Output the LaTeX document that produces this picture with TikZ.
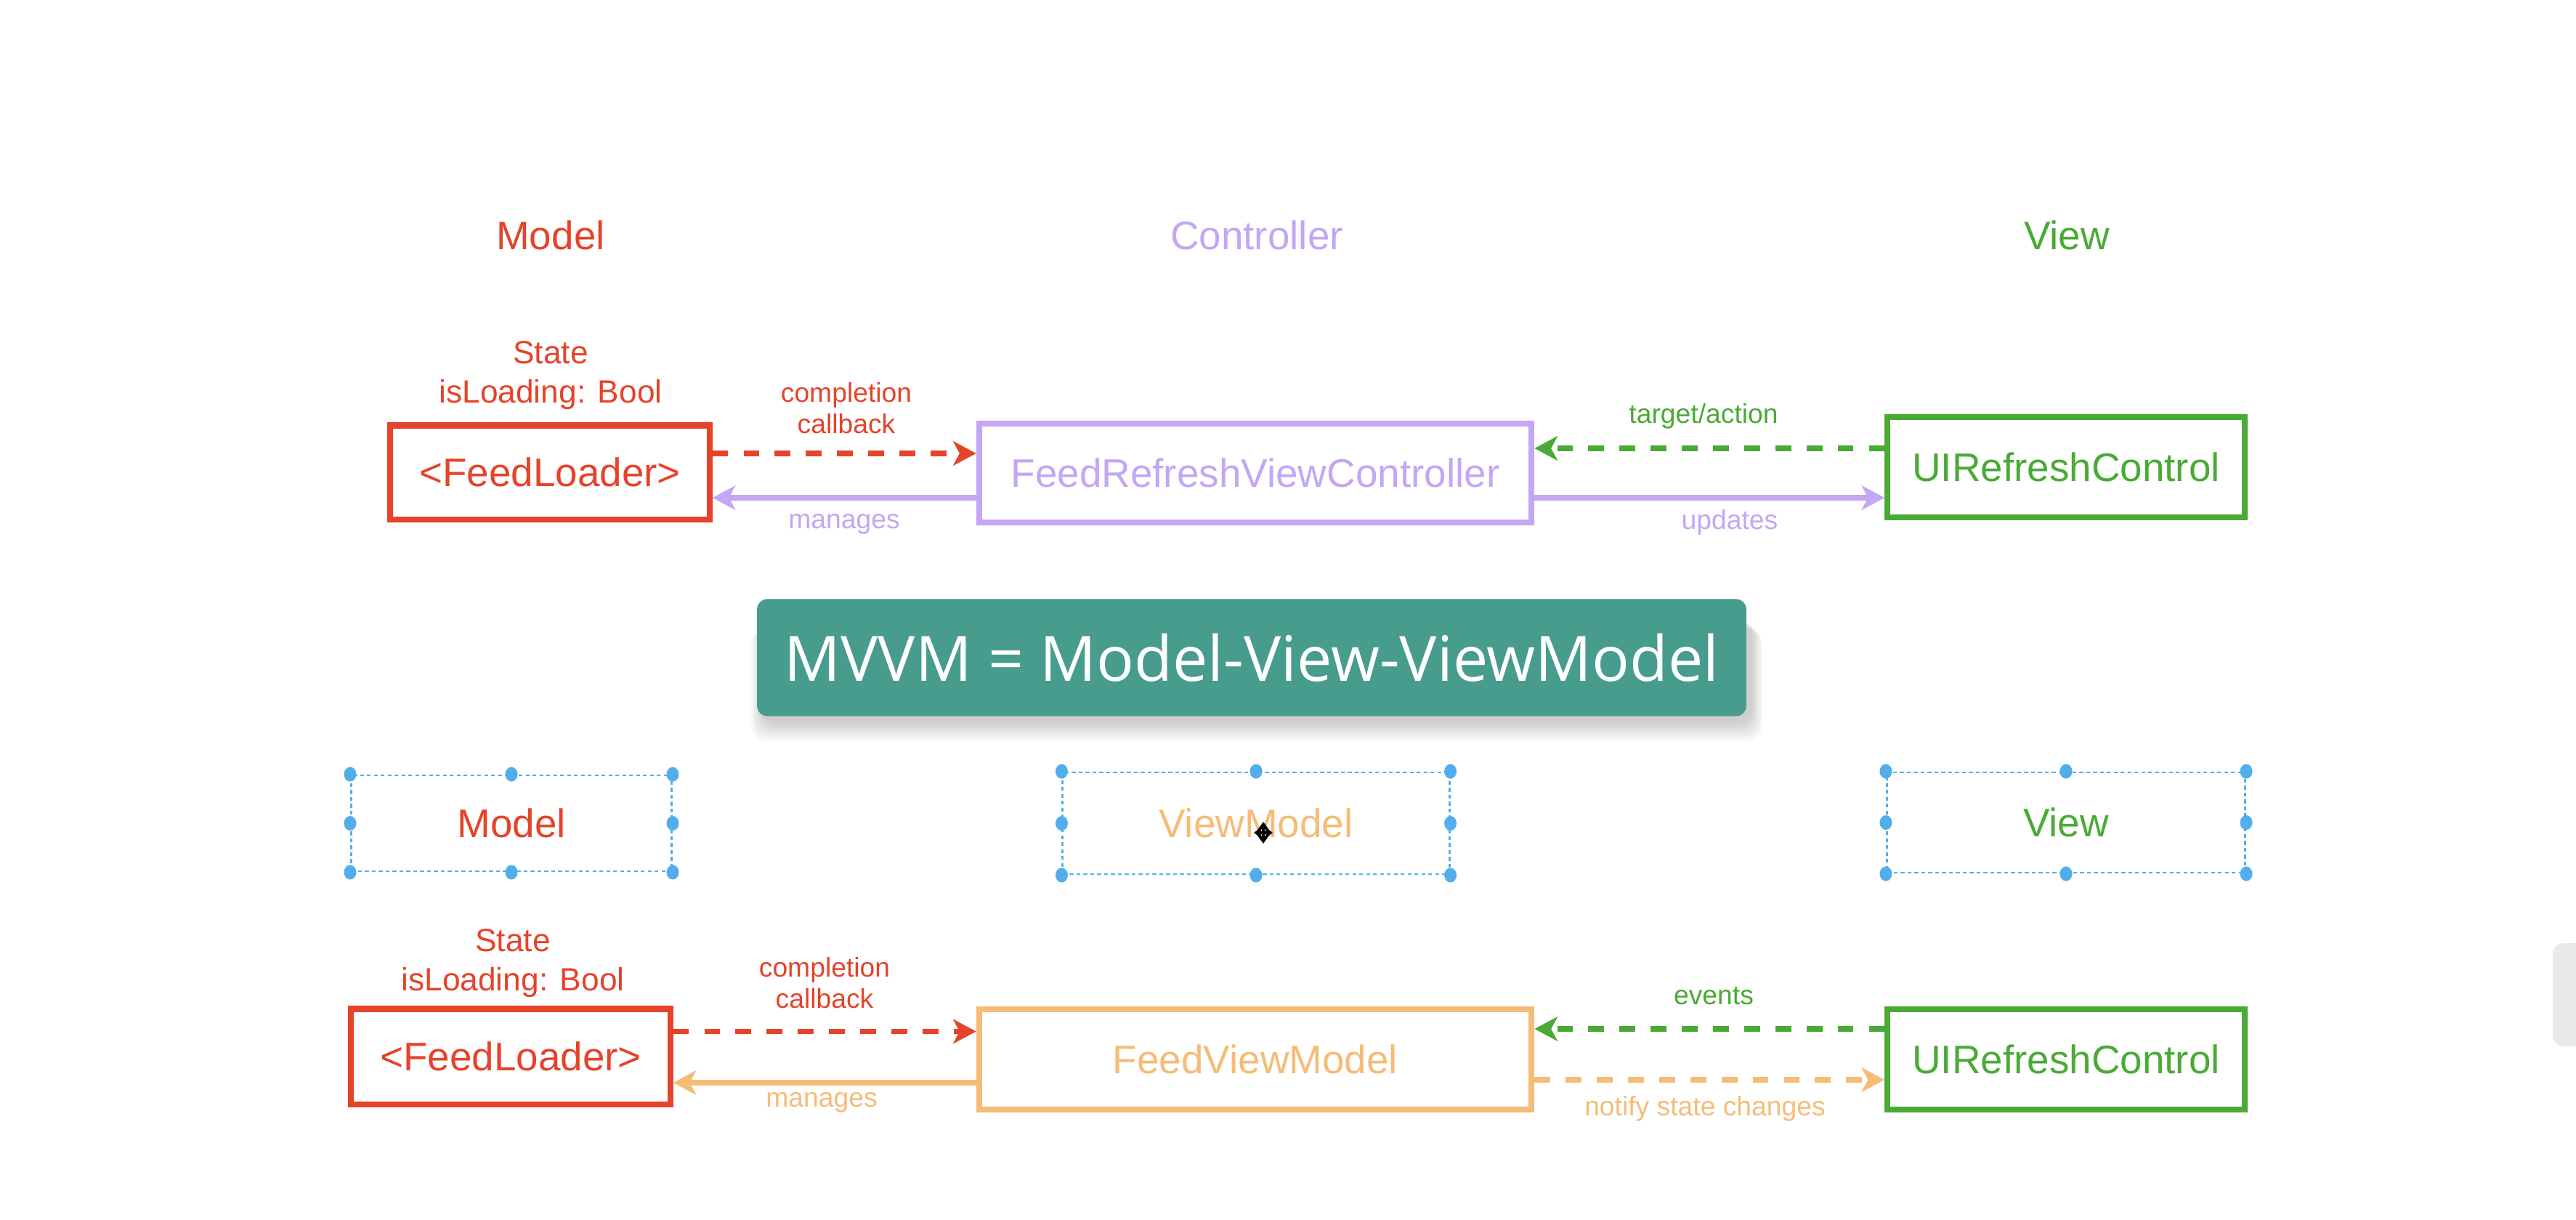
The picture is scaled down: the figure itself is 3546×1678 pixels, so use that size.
\documentclass[tikz,border=0pt]{standalone}
\usepackage{fontspec}
\setmainfont{Liberation Sans}
\newfontfamily\bannerfont{Open Sans}
\usetikzlibrary{arrows.meta}

\definecolor{modelred}{HTML}{E5432A}
\definecolor{ctrlpurple}{HTML}{C4A6F4}
\definecolor{viewgreen}{HTML}{4AAA36}
\definecolor{vmorange}{HTML}{F5BC78}
\definecolor{bannerteal}{HTML}{479C8D}
\definecolor{handleblue}{HTML}{52AEEA}
\definecolor{scrollgray}{HTML}{E9E9E9}

\tikzset{
  box/.style={draw,line width=2.3pt,fill=white,inner sep=0pt,font=\fontsize{15.6}{18}\selectfont},
  header/.style={font=\fontsize{15.6}{18}\selectfont},
  lbl/.style={font=\fontsize{10.6}{12.2}\selectfont,align=center},
  statelbl/.style={font=\fontsize{12.6}{15.4}\selectfont,align=center},
  solidarr/.style={line width=2.2pt,-{Stealth[length=9pt,width=9.5pt,inset=2.5pt]}},
  dasharr/.style={solidarr,dash pattern=on 6.2pt off 6pt},
  selbox/.style={draw=handleblue,line width=0.8pt,dash pattern=on 1.5pt off 1.2pt,inner sep=0pt,font=\fontsize{15.6}{18}\selectfont},
  handle/.style={fill=handleblue},
  movetip/.style={line width=1.2pt,{Stealth[length=3.5pt,width=5pt]}-{Stealth[length=3.5pt,width=5pt]}}
}

\begin{document}
\begin{tikzpicture}[x=0.01cm,y=-0.01cm]
\fill[white] (0,0) rectangle (3546,1678);
\useasboundingbox (0,0) rectangle (3546,1678);

% MVC headers
\node[header,text=modelred] (hmodel) at (758,324) {Model};
\node[header,text=ctrlpurple] (hctrl) at (1730,324) {Controller};
\node[header,text=viewgreen] (hview) at (2845,324) {View};

% MVC row
\node[statelbl,text=modelred] (state1) at (758,517) {State\\isLoading: Bool};
\node[box,draw=modelred,text=modelred,minimum width=4.39cm,minimum height=1.29cm] (loader1) at (757,650) {<FeedLoader>};
\node[box,draw=ctrlpurple,text=ctrlpurple,minimum width=7.6cm,minimum height=1.36cm] (refreshvc) at (1728,651) {FeedRefreshViewController};
\node[box,draw=viewgreen,text=viewgreen,minimum width=4.91cm,minimum height=1.38cm] (control1) at (2844,643) {UIRefreshControl};

\path ([yshift=0.26cm]loader1.east) coordinate (cb1);
\path ([yshift=-0.34cm]refreshvc.west) coordinate (mg1);
\path ([yshift=0.26cm]control1.west) coordinate (ta1);
\path ([yshift=-0.34cm]refreshvc.east) coordinate (up1);
\draw[dasharr,modelred] (cb1) -- (cb1 -| refreshvc.west);
\draw[solidarr,ctrlpurple] (mg1) -- (mg1 -| loader1.east);
\draw[dasharr,viewgreen] (ta1) -- (ta1 -| refreshvc.east);
\draw[solidarr,ctrlpurple] (up1) -- (up1 -| control1.west);

\node[lbl,text=modelred] (cblbl1) at (1165,562) {completion\\callback};
\node[lbl,text=ctrlpurple] (mglbl1) at (1162,721) {manages};
\node[lbl,text=viewgreen] (talbl1) at (2345,573) {target/action};
\node[lbl,text=ctrlpurple] (uplbl1) at (2381,719) {updates};

% banner with soft shadow
\foreach \i in {1,...,8}
  \fill[black,opacity=0.025,rounded corners=0.2cm] (1050-\i*2,850+\i*2) rectangle (2410+\i*2,992+\i*3.5);
\node[fill=bannerteal,rounded corners=0.14cm,minimum width=13.61cm,minimum height=1.61cm,
  text=white,font=\bannerfont\fontsize{24.5}{28}\selectfont] (banner) at (1723,905) {MVVM = Model-View-ViewModel};

% MVVM headers (selected)
\node[selbox,text=modelred,minimum width=4.41cm,minimum height=1.32cm] (selmodel) at (704,1133) {Model};
\node[selbox,text=vmorange,minimum width=5.32cm,minimum height=1.40cm] (selvm) at (1729,1133) {ViewModel};
\node[selbox,text=viewgreen,minimum width=4.93cm,minimum height=1.38cm] (selview) at (2844,1132) {View};
\foreach \n in {selmodel,selvm,selview}
  \foreach \a in {north west,north,north east,east,south east,south,south west,west}
    \fill[handle] (\n.\a) ellipse (0.085cm and 0.1cm);

% cursor
\coordinate (cursor) at (1739,1146);
\draw[movetip] ([xshift=-0.13cm]cursor) -- ([xshift=0.13cm]cursor);
\draw[movetip] ([yshift=-0.15cm]cursor) -- ([yshift=0.15cm]cursor);

% MVVM row
\node[statelbl,text=modelred] (state2) at (706,1326) {State\\isLoading: Bool};
\node[box,draw=modelred,text=modelred,minimum width=4.39cm,minimum height=1.31cm] (loader2) at (703,1454) {<FeedLoader>};
\node[box,draw=vmorange,text=vmorange,minimum width=7.6cm,minimum height=1.38cm] (feedvm) at (1728,1458) {FeedViewModel};
\node[box,draw=viewgreen,text=viewgreen,minimum width=4.91cm,minimum height=1.38cm] (control2) at (2844,1458) {UIRefreshControl};

\path ([yshift=0.345cm]loader2.east) coordinate (cb2);
\path ([yshift=-0.32cm]feedvm.west) coordinate (mg2);
\path ([yshift=0.42cm]control2.west) coordinate (ev2);
\path ([yshift=-0.28cm]feedvm.east) coordinate (ns2);
\draw[dasharr,modelred] (cb2) -- (cb2 -| feedvm.west);
\draw[solidarr,vmorange] (mg2) -- (mg2 -| loader2.east);
\draw[dasharr,viewgreen] (ev2) -- (ev2 -| feedvm.east);
\draw[dasharr,vmorange] (ns2) -- (ns2 -| control2.west);

\node[lbl,text=modelred] (cblbl2) at (1135,1353) {completion\\callback};
\node[lbl,text=vmorange] (mglbl2) at (1131,1517) {manages};
\node[lbl,text=viewgreen] (evlbl2) at (2359,1371) {events};
\node[lbl,text=vmorange] (nslbl2) at (2347,1526) {notify state changes};

% scroll bar
\fill[scrollgray,rounded corners=0.15cm] (3514,1298) rectangle (3580,1440);
\end{tikzpicture}
\end{document}
